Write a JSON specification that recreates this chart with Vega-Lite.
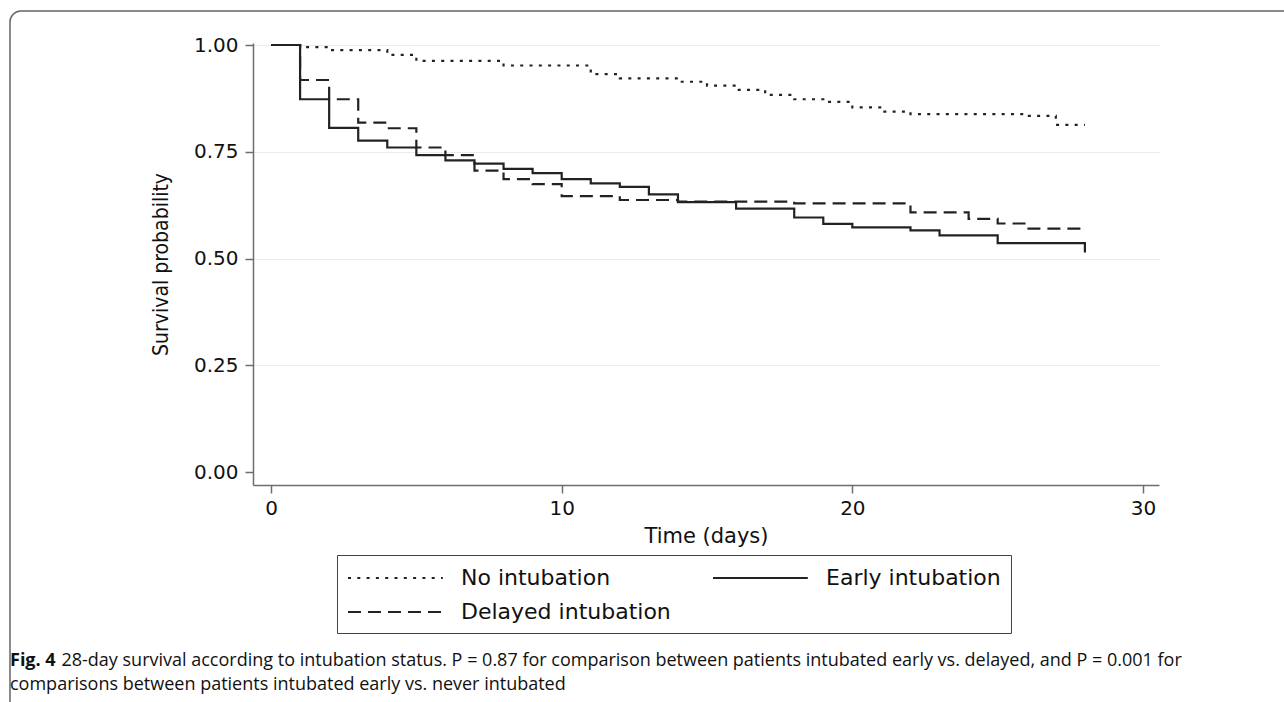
{
  "$schema": "https://vega.github.io/schema/vega-lite/v6.json",
  "width": 906,
  "height": 442,
  "autosize": {"type": "none"},
  "padding": {"left": 253, "top": 43, "right": 125, "bottom": 217},
  "background": "white",
  "config": {"view": {"stroke": null}, "font": "DejaVu Sans"},
  "title": {
    "text": "Fig. 4",
    "orient": "bottom",
    "anchor": "start",
    "frame": "group",
    "dx": -243,
    "offset": -77,
    "font": "Open Sans",
    "fontSize": 18,
    "fontWeight": "bold",
    "color": "#111111",
    "subtitle": [
      "\u200b\u00a0\u00a0\u00a0\u00a0\u00a0\u00a0\u00a0\u00a0\u00a0\u00a0\u00a028-day survival according to intubation status. P = 0.87 for comparison between patients intubated early vs. delayed, and P = 0.001 for",
      "comparisons between patients intubated early vs. never intubated"
    ],
    "subtitleFont": "Open Sans",
    "subtitleFontSize": 18,
    "subtitleColor": "#111111",
    "subtitlePadding": -18,
    "subtitleLineHeight": 24
  },
  "data": {
    "values": [
      {"g": "No intubation", "t": 0, "s": 1.0},
      {"g": "No intubation", "t": 1, "s": 0.995},
      {"g": "No intubation", "t": 2, "s": 0.988},
      {"g": "No intubation", "t": 4, "s": 0.977},
      {"g": "No intubation", "t": 5, "s": 0.963},
      {"g": "No intubation", "t": 8, "s": 0.952},
      {"g": "No intubation", "t": 11, "s": 0.932},
      {"g": "No intubation", "t": 12, "s": 0.922},
      {"g": "No intubation", "t": 14, "s": 0.914},
      {"g": "No intubation", "t": 15, "s": 0.905},
      {"g": "No intubation", "t": 16, "s": 0.895},
      {"g": "No intubation", "t": 17, "s": 0.883},
      {"g": "No intubation", "t": 18, "s": 0.873},
      {"g": "No intubation", "t": 19, "s": 0.867},
      {"g": "No intubation", "t": 20, "s": 0.854},
      {"g": "No intubation", "t": 21, "s": 0.844},
      {"g": "No intubation", "t": 22, "s": 0.838},
      {"g": "No intubation", "t": 26, "s": 0.834},
      {"g": "No intubation", "t": 27, "s": 0.813},
      {"g": "No intubation", "t": 28, "s": 0.813},
      {"g": "Early intubation", "t": 0, "s": 1.0},
      {"g": "Early intubation", "t": 1, "s": 0.873},
      {"g": "Early intubation", "t": 2, "s": 0.806},
      {"g": "Early intubation", "t": 3, "s": 0.776},
      {"g": "Early intubation", "t": 4, "s": 0.76},
      {"g": "Early intubation", "t": 5, "s": 0.742},
      {"g": "Early intubation", "t": 6, "s": 0.73},
      {"g": "Early intubation", "t": 7, "s": 0.722},
      {"g": "Early intubation", "t": 8, "s": 0.71},
      {"g": "Early intubation", "t": 9, "s": 0.7},
      {"g": "Early intubation", "t": 10, "s": 0.686},
      {"g": "Early intubation", "t": 11, "s": 0.676},
      {"g": "Early intubation", "t": 12, "s": 0.668},
      {"g": "Early intubation", "t": 13, "s": 0.65},
      {"g": "Early intubation", "t": 14, "s": 0.632},
      {"g": "Early intubation", "t": 16, "s": 0.617},
      {"g": "Early intubation", "t": 18, "s": 0.596},
      {"g": "Early intubation", "t": 19, "s": 0.581},
      {"g": "Early intubation", "t": 20, "s": 0.573},
      {"g": "Early intubation", "t": 22, "s": 0.566},
      {"g": "Early intubation", "t": 23, "s": 0.554},
      {"g": "Early intubation", "t": 25, "s": 0.536},
      {"g": "Early intubation", "t": 28, "s": 0.514},
      {"g": "Delayed intubation", "t": 0, "s": 1.0},
      {"g": "Delayed intubation", "t": 1, "s": 0.918},
      {"g": "Delayed intubation", "t": 2, "s": 0.873},
      {"g": "Delayed intubation", "t": 3, "s": 0.818},
      {"g": "Delayed intubation", "t": 4, "s": 0.805},
      {"g": "Delayed intubation", "t": 5, "s": 0.76},
      {"g": "Delayed intubation", "t": 6, "s": 0.742},
      {"g": "Delayed intubation", "t": 7, "s": 0.706},
      {"g": "Delayed intubation", "t": 8, "s": 0.686},
      {"g": "Delayed intubation", "t": 9, "s": 0.674},
      {"g": "Delayed intubation", "t": 10, "s": 0.646},
      {"g": "Delayed intubation", "t": 12, "s": 0.637},
      {"g": "Delayed intubation", "t": 14, "s": 0.633},
      {"g": "Delayed intubation", "t": 18, "s": 0.629},
      {"g": "Delayed intubation", "t": 22, "s": 0.608},
      {"g": "Delayed intubation", "t": 24, "s": 0.593},
      {"g": "Delayed intubation", "t": 25, "s": 0.582},
      {"g": "Delayed intubation", "t": 26, "s": 0.57},
      {"g": "Delayed intubation", "t": 28, "s": 0.57}
    ]
  },
  "layer": [
    {
      "data": {"values": [{}]},
      "mark": {"type": "rect", "fill": null, "stroke": "#666666", "strokeWidth": 1.5, "cornerRadius": 11, "clip": false},
      "encoding": {
        "x": {"datum": -8.98, "type": "quantitative"},
        "x2": {"datum": 40},
        "y": {"datum": 1.0796, "type": "quantitative"},
        "y2": {"datum": -0.6}
      }
    },
    {
      "mark": {"type": "line", "interpolate": "step-after", "strokeWidth": 2.2, "color": "#222222"},
      "encoding": {
        "x": {
          "field": "t",
          "type": "quantitative",
          "scale": {"domain": [-0.62, 30.55], "nice": false, "zero": false},
          "axis": {
            "title": "Time (days)",
            "values": [0, 10, 20, 30],
            "grid": false,
            "domainColor": "#6e6e6e",
            "domainWidth": 1.5,
            "tickColor": "#6e6e6e",
            "tickWidth": 1.5,
            "tickSize": 8,
            "labelFont": "DejaVu Sans",
            "labelFontSize": 20,
            "labelColor": "#111111",
            "labelPadding": 5,
            "titleFont": "DejaVu Sans",
            "titleFontSize": 21,
            "titleFontWeight": "normal",
            "titleColor": "#111111",
            "titlePadding": 7
          }
        },
        "y": {
          "field": "s",
          "type": "quantitative",
          "scale": {"domain": [-0.0304, 1.0047], "nice": false, "zero": false},
          "axis": {
            "title": "Survival probability",
            "values": [0, 0.25, 0.5, 0.75, 1],
            "format": ".2f",
            "grid": true,
            "gridColor": {"condition": {"test": "datum.value === 0", "value": "transparent"}, "value": "#ebebeb"},
            "gridWidth": 1.2,
            "domainColor": "#6e6e6e",
            "domainWidth": 1.5,
            "tickColor": "#6e6e6e",
            "tickWidth": 1.5,
            "tickSize": 8,
            "labelFont": "DejaVu Sans",
            "labelFontSize": 20,
            "labelColor": "#111111",
            "labelPadding": 7,
            "titleFont": "Liberation Sans Narrow, DejaVu Sans Condensed",
            "titleFontSize": 21,
            "titleFontWeight": "normal",
            "titleColor": "#111111",
            "titlePadding": 22
          }
        },
        "strokeDash": {
          "field": "g",
          "type": "nominal",
          "scale": {
            "domain": ["No intubation", "Delayed intubation", "Early intubation"],
            "range": [[3, 6.3], [13, 7], [1, 0]]
          },
          "legend": {
            "title": null,
            "orient": "none",
            "legendX": 84,
            "legendY": 512,
            "columns": 2,
            "columnPadding": 38,
            "rowPadding": 10,
            "padding": 10,
            "strokeColor": "#444444",
            "symbolType": "M-1,0H6.9",
            "symbolSize": 576,
            "symbolStrokeWidth": 2,
            "symbolStrokeColor": "#222222",
            "labelFont": "DejaVu Sans",
            "labelFontSize": 22,
            "labelColor": "#111111",
            "labelOffset": 88,
            "labelLimit": 400
          }
        }
      }
    }
  ]
}
